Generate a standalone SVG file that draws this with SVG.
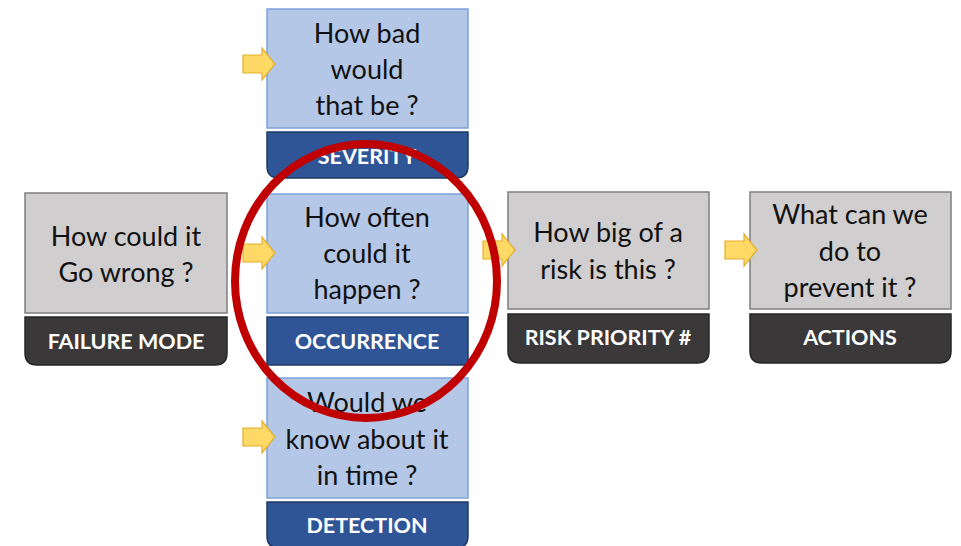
<svg xmlns="http://www.w3.org/2000/svg" width="961" height="546" viewBox="0 0 961 546">
  <style>
    .q { font-family: Lato, "Open Sans", "Liberation Sans", sans-serif; font-size: 27px; fill: #111; text-anchor: middle; }
    .lbl { font-family: Lato, "Open Sans", "Liberation Sans", sans-serif; font-size: 21.5px; font-weight: bold; fill: #fff; text-anchor: middle; }
    .blue { fill: #B4C7E7; stroke: #7DA3DA; stroke-width: 1.5; }
    .grey { fill: #D0CECE; stroke: #7F7F7F; stroke-width: 1.5; }
    .bluebar { fill: #2F5597; stroke: #1F3864; stroke-width: 1.5; }
    .darkbar { fill: #3A3838; stroke: #262626; stroke-width: 1.5; }
    .arrow { fill: #FFD966; stroke: #E3AE2B; stroke-width: 1.2; }
  </style>
  <defs>
    <!-- block arrow pointing right, origin at its left-middle -->
    <path id="blk" d="M0,-9 H19 V-16 L32,0 L19,16 V9 H0 Z"/>
  </defs>
  <rect width="961" height="546" fill="#fff"/>

  <g id="failure-mode">
    <rect class="grey" x="25" y="193" width="202" height="120"/>
    <path class="darkbar" d="M25,317 H227 V353 Q227,365 215,365 H37 Q25,365 25,353 Z"/>
    <text class="q" x="126" y="246">How could it</text>
    <text class="q" x="126" y="282">Go wrong ?</text>
    <text class="lbl" x="126" y="349">FAILURE MODE</text>
  </g>

  <g id="severity">
    <rect class="blue" x="267" y="9" width="201" height="119"/>
    <path class="bluebar" d="M267,132 H468 V166 Q468,178 456,178 H279 Q267,178 267,166 Z"/>
    <text class="q" x="367" y="43">How bad</text>
    <text class="q" x="367" y="79">would</text>
    <text class="q" x="367" y="115">that be ?</text>
    <text class="lbl" x="367" y="164">SEVERITY</text>
  </g>

  <g id="occurrence">
    <rect class="blue" x="267" y="194" width="201" height="119"/>
    <rect class="bluebar" x="267" y="317" width="201" height="48"/>
    <text class="q" x="367" y="227">How often</text>
    <text class="q" x="367" y="263">could it</text>
    <text class="q" x="367" y="299">happen ?</text>
    <text class="lbl" x="367" y="349">OCCURRENCE</text>
  </g>

  <g id="detection">
    <rect class="blue" x="267" y="378" width="201" height="120"/>
    <path class="bluebar" d="M267,502 H468 V536 Q468,548 456,548 H279 Q267,548 267,536 Z"/>
    <text class="q" x="367" y="412">Would we</text>
    <text class="q" x="367" y="449">know about it</text>
    <text class="q" x="367" y="485">in time ?</text>
    <text class="lbl" x="367" y="533">DETECTION</text>
  </g>

  <g id="risk-priority">
    <rect class="grey" x="508" y="192" width="201" height="117"/>
    <path class="darkbar" d="M508,314 H709 V351 Q709,363 697,363 H520 Q508,363 508,351 Z"/>
    <text class="q" x="608" y="242">How big of a</text>
    <text class="q" x="608" y="279">risk is this ?</text>
    <text class="lbl" x="608" y="345">RISK PRIORITY #</text>
  </g>

  <g id="actions">
    <rect class="grey" x="750" y="192" width="201" height="117"/>
    <path class="darkbar" d="M750,314 H951 V351 Q951,363 939,363 H762 Q750,363 750,351 Z"/>
    <text class="q" x="850" y="224">What can we</text>
    <text class="q" x="850" y="261">do to</text>
    <text class="q" x="850" y="297">prevent it ?</text>
    <text class="lbl" x="850" y="345">ACTIONS</text>
  </g>

  <g id="connectors">
    <use href="#blk" class="arrow" x="243" y="64"/>
    <use href="#blk" class="arrow" x="243" y="253"/>
    <use href="#blk" class="arrow" x="243" y="437"/>
    <use href="#blk" class="arrow" x="483" y="250"/>
    <use href="#blk" class="arrow" x="725" y="250"/>
  </g>

  <g id="highlight">
    <ellipse cx="366" cy="281" rx="131" ry="137" fill="none" stroke="#C00000" stroke-width="8"/>
  </g>
</svg>
